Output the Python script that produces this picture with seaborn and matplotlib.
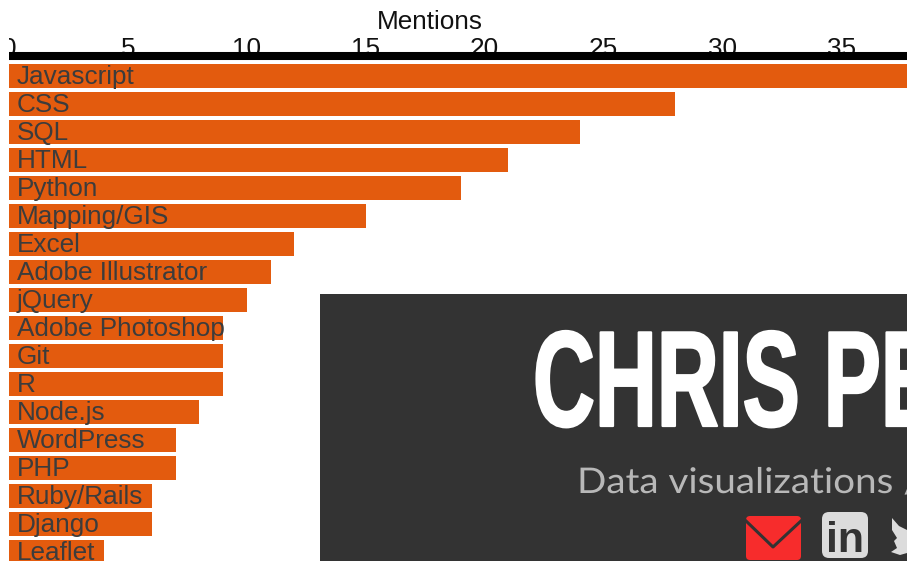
import pandas as pd
import seaborn as sns
from matplotlib import pyplot as plt
from matplotlib.patches import FancyBboxPatch, Polygon
from matplotlib.patheffects import AbstractPathEffect
from matplotlib.transforms import Affine2D, Bbox

tools = ['Javascript', 'CSS', 'SQL', 'HTML', 'Python', 'Mapping/GIS', 'Excel',
         'Adobe Illustrator', 'jQuery', 'Adobe Photoshop', 'Git', 'R', 'Node.js',
         'WordPress', 'PHP', 'Ruby/Rails', 'Django', 'Leaflet']
mentions = [38, 28, 24, 21, 19, 15, 12, 11, 10, 9, 9, 9, 8, 7, 7, 6, 6, 4]
ticks = [0, 5, 10, 15, 20, 25, 30, 35]

W, H = 907, 561
ORANGE = '#e35b0e'
DARK = '#333333'


# squeeze a text sideways, no condensed display face is installed
class Squeeze(AbstractPathEffect):
    def __init__(self, sx, x0, stroke=0):
        super().__init__()
        self.sx = sx
        self.x0 = x0
        self.stroke = stroke

    def draw_path(self, renderer, gc, tpath, affine, rgbFace=None):
        squeeze = Affine2D().translate(-self.x0, 0).scale(self.sx, 1).translate(self.x0, 0)
        gc0 = renderer.new_gc()
        gc0.copy_properties(gc)
        if self.stroke:
            gc0.set_linewidth(self.stroke)
            gc0.set_foreground(rgbFace)
        renderer.draw_path(gc0, tpath, affine + squeeze, rgbFace)
        gc0.restore()


sns.set_style('white')
plt.rcParams['font.family'] = ['Liberation Sans', 'DejaVu Sans']

df = pd.DataFrame({'tool': tools, 'mentions': mentions})

fig = plt.figure(figsize=(W / 100, H / 100), dpi=100)
ax = fig.add_axes([9.2 / W, 0, (W - 9.2) / W, (H - 55.5) / H])
sns.barplot(data=df, x='mentions', y='tool', color=ORANGE, saturation=1, width=0.857,
            edgecolor='none', linewidth=0, ax=ax)
ax.set_xlim(0, 37.77)
ax.set_ylim(17.32, -0.732)

for i, t in enumerate(tools):
    ax.annotate(t, (0, i), xytext=(5.7, 1.2), textcoords='offset points', va='center_baseline',
                ha='left', fontsize=18.85, color='#3c3c3c', annotation_clip=False, zorder=5)

ax.set_yticks([])
ax.set_ylabel('')
ax.set_xticks(ticks)
ax.xaxis.tick_top()
ax.xaxis.set_label_position('top')
ax.tick_params(axis='x', length=0, pad=-4, labelsize=18.85, labelcolor='#111111')
ax.set_xlabel('Mentions', fontsize=18.85, color='#111111', labelpad=6, x=(430 - 9.2) / (W - 9.2))
for lab in ax.get_xticklabels():
    lab.set_clip_on(True)
    lab.set_clip_box(Bbox.from_extents(9, 0, W, H))

for side in ['left', 'right', 'bottom']:
    ax.spines[side].set_visible(False)
ax.spines['top'].set_linewidth(5.8)
ax.spines['top'].set_color('black')
ax.spines['top'].set_capstyle('butt')
ax.spines['top'].set_zorder(6)

# panel on top of the chart, in pixel coordinates
top = fig.add_axes([0, 0, 1, 1], facecolor='none')
top.set_xlim(0, W)
top.set_ylim(H, 0)
top.axis('off')
top.fill_between([320, W], 294, H, color=DARK, lw=0, zorder=1)

title = top.text(533, 426, 'CHRIS PE', fontsize=98, fontweight='bold', color='white',
                 family='Liberation Sans', va='baseline', ha='left', zorder=2)
title.set_path_effects([Squeeze(0.63, 533, stroke=1.6)])

sub = top.text(577, 493, 'Data visualizations / ', fontsize=25.5, color='#b8b8b8', family='Lato',
               va='baseline', ha='left', zorder=2)
sub.set_path_effects([Squeeze(1.09, 577)])

# mail icon
top.add_patch(FancyBboxPatch((748, 518), 51, 40, boxstyle='round,pad=2,rounding_size=4',
                             fc='#f72c2c', ec='none', zorder=2))
top.plot([745, 773, 802], [520, 547, 520], color=DARK, lw=2.2, zorder=3, solid_capstyle='butt')

# linkedin icon
top.add_patch(FancyBboxPatch((824, 514), 42, 42, boxstyle='round,pad=2,rounding_size=7',
                             fc='#dcdcdc', ec='none', zorder=2))
top.text(845, 552, 'in', fontsize=31, fontweight='bold', color=DARK, ha='center',
         va='baseline', zorder=3)

# twitter icon, runs off the edge
top.add_patch(Polygon([(892, 518), (899, 526), (907, 530), (907, 553), (900, 555), (891, 552),
                       (897, 548), (894, 541), (897, 538), (892, 530)],
                      fc='#dcdcdc', ec='none', zorder=2))

plt.savefig('out.png', dpi=100)
